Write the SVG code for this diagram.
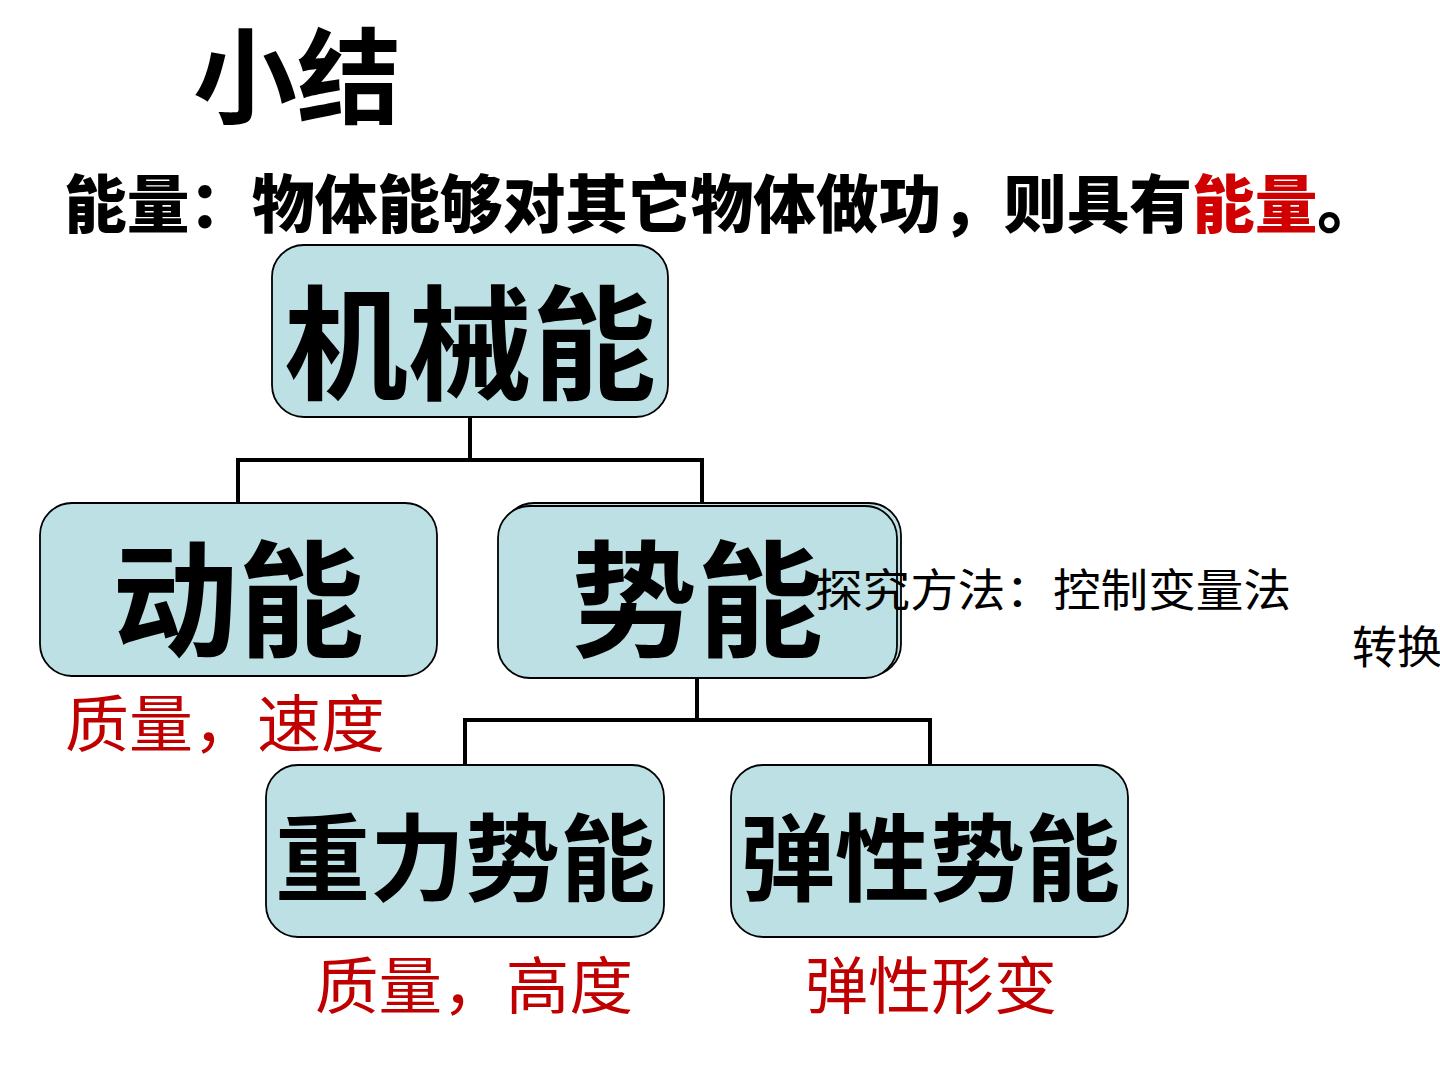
<svg xmlns="http://www.w3.org/2000/svg" width="1440" height="1080" viewBox="0 0 1440 1080">
<style>
.box{fill:#BCE0E3;stroke:#000;stroke-width:1.8}
.lbl{font-family:"Noto Sans CJK SC","Liberation Sans",sans-serif;font-weight:700;fill:#000;text-anchor:middle}
.red{font-family:"Noto Sans CJK SC",serif;font-weight:400;fill:#C00000;font-size:62px}
.note{font-family:"Noto Sans CJK SC",serif;font-weight:400;fill:#000;font-size:45px}
.conn{fill:none;stroke:#000;stroke-width:4}
</style>
<rect width="1440" height="1080" fill="#fff"/>
<text x="193" y="116" font-family="Noto Sans CJK SC, sans-serif" font-weight="700" font-size="104">小结</text>
<text x="64" y="227" font-family="Noto Sans CJK SC, sans-serif" font-weight="900" font-size="63" textLength="1316" lengthAdjust="spacingAndGlyphs">能量：物体能够对其它物体做功，则具有<tspan fill="#D00000">能量</tspan>。</text>
<g id="connectors">
<path class="conn" d="M470 417V460M238 503V460H702V503"/>
<path class="conn" d="M697 678V720M465 765V720H930V765"/>
</g>
<g id="n-jixieneng">
<rect class="box" x="272" y="245" width="396" height="172" rx="32"/>
<text class="lbl" x="470" y="390" font-size="124">机械能</text>
</g>
<g id="n-dongneng">
<rect class="box" x="40" y="503" width="397" height="173" rx="32"/>
<text class="lbl" x="238" y="647" font-size="126">动能</text>
</g>
<g id="n-shineng">
<rect class="box" x="502" y="503" width="399" height="173" rx="32"/>
<rect class="box" x="498" y="506" width="399" height="172" rx="32"/>
<text class="lbl" x="697" y="647" font-size="126">势能</text>
</g>
<g id="n-zhongli">
<rect class="box" x="266" y="765" width="398" height="172" rx="32"/>
<text class="lbl" x="465" y="894" font-size="95">重力势能</text>
</g>
<g id="n-tanxing">
<rect class="box" x="731" y="765" width="397" height="172" rx="32"/>
<text class="lbl" x="930" y="894" font-size="95">弹性势能</text>
</g>
<text class="red" x="65" y="747" textLength="320" lengthAdjust="spacingAndGlyphs">质量，速度</text>
<text class="red" x="315" y="1009" textLength="318" lengthAdjust="spacingAndGlyphs">质量，高度</text>
<text class="red" x="805" y="1009" textLength="252" lengthAdjust="spacingAndGlyphs">弹性形变</text>
<text class="note" x="815" y="607" textLength="476" lengthAdjust="spacingAndGlyphs">探究方法：控制变量法</text>
<text class="note" x="1352" y="664">转换</text>
</svg>
